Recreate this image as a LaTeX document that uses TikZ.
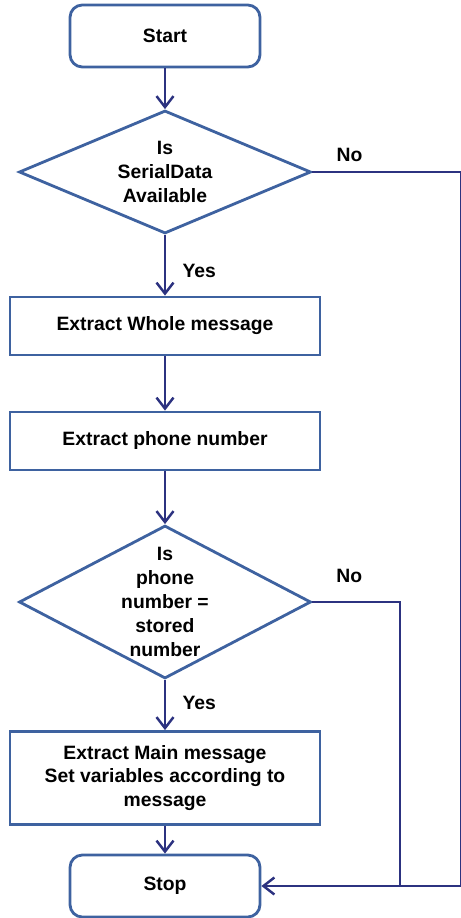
\documentclass[tikz,border=0pt]{standalone}
\definecolor{boxblue}{RGB}{62, 98, 160}
\definecolor{flownavy}{RGB}{44, 50, 128}
\usepackage{fontspec}
\setmainfont{Liberation Sans}
\usepackage{tikz}
\usetikzlibrary{shapes, arrows.meta, positioning}

\tikzset{
  flowtext/.style={font=\bfseries\fontsize{11}{13.6}\selectfont, align=center},
  terminal/.style={draw=boxblue, line width=1.6pt, rounded corners=7pt, minimum width=3.8cm, minimum height=1.24cm, flowtext},
  process/.style={draw=boxblue, line width=1.6pt, minimum width=6.2cm, minimum height=1.16cm, flowtext},
  decision/.style={draw=boxblue, line width=1.6pt, shape=diamond, inner sep=0pt, minimum width=5.84cm},
  flow/.style={draw=flownavy, line width=1.4pt, -{Straight Barb[length=2.2mm, width=3.4mm]}},
  link/.style={draw=flownavy, line width=1.4pt},
  answer/.style={font=\bfseries\fontsize{11}{12}\selectfont}
}

\begin{document}
\begin{tikzpicture}[x=0.02cm, y=-0.02cm]
  \useasboundingbox (0,0) rectangle (460,918);

  \node[terminal] (start) at (165,36) {Start};
  \node[decision, minimum height=2.46cm,
        label={[flowtext]center:Is\\SerialData\\Available}] (serial) at (165,172) {};
  \node[process] (whole) at (165,326) {Extract Whole message};
  \node[process] (phone) at (165,441) {Extract phone number};
  \node[decision, minimum height=3.06cm,
        label={[flowtext]center:Is\\phone\\number =\\stored\\number}] (match) at (165,602) {};
  \node[process, minimum height=1.86cm] (mainmsg) at (165,778)
    {Extract Main message\\Set variables according to\\message};
  \node[terminal] (stop) at (165,886) {Stop};

  % corner points of the two "No" branches
  \coordinate (edgetop) at (461,172);
  \coordinate (edgebot) at (461,886);
  \coordinate (jointop) at (400,602);
  \coordinate (joinbot) at (400,886);

  \draw[flow] (start) -- (serial);
  \draw[flow] (serial) -- node[answer, right, xshift=6pt, pos=0.6] {Yes} (whole);
  \draw[flow] (whole) -- (phone);
  \draw[flow] (phone) -- (match);
  \draw[flow] (match) -- node[answer, right, xshift=6pt, pos=0.45] {Yes} (mainmsg);
  \draw[flow] (mainmsg) -- (stop);

  \draw[link] (serial.east) -- node[answer, above, pos=0.25, yshift=2pt] {No} (edgetop) -- (edgebot) -- (joinbot);
  \draw[link] (match.east) -- node[answer, above, pos=0.42, yshift=7pt] {No} (jointop) -- (joinbot);
  \draw[flow] (joinbot) -- (stop.east);
\end{tikzpicture}
\end{document}
